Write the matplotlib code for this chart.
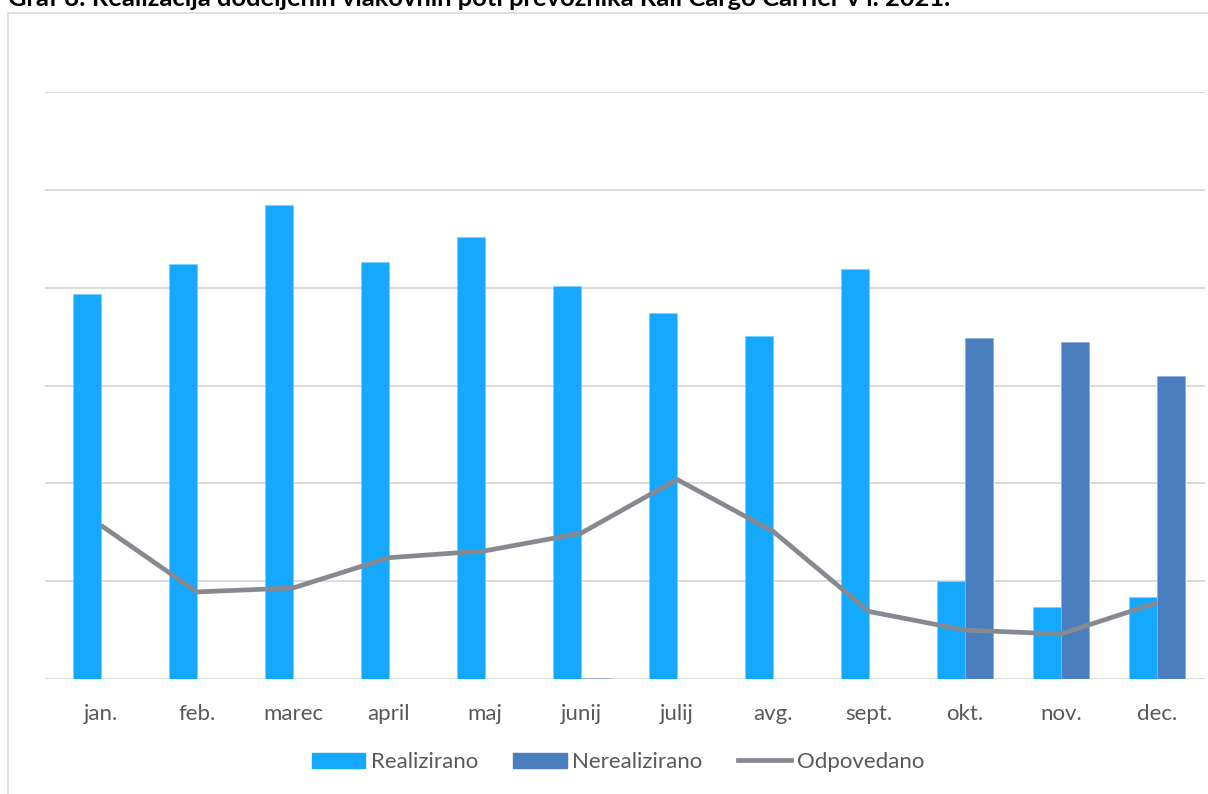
import matplotlib
matplotlib.use("Agg")
import matplotlib.pyplot as plt
from matplotlib.patches import Rectangle
from matplotlib.lines import Line2D
import numpy as np

months = ["jan.", "feb.", "marec", "april", "maj", "junij", "julij", "avg.", "sept.", "okt.", "nov.", "dec."]
realizirano = [394, 424, 484, 426, 452, 402, 374, 351, 419, 100, 74, 84]
nerealizirano = [0, 0, 0, 0, 0.4, 1.5, 0, 0, 0, 349, 344, 310]
odpovedano = [157, 89, 93, 124, 131, 149, 204, 151, 69, 50, 46, 78]
title = "Graf 8: Realizacija dodeljenih vlakovnih poti prevoznika Rail Cargo Carrier v l. 2021."

C_REAL = "#14A9FF"
C_NER = "#4A7EBE"
C_ODP = "#868A90"
C_TXT = "#595959"
C_GRID = "#D9D9D9"

FONT = "Lato"
W, H = 1208, 794
fig = plt.figure(figsize=(W / 100, H / 100), dpi=100)

# outer chart border
fig.patches.append(Rectangle((8 / W, 0 - 10 / H), 1.2, (H - 13 + 10) / H, transform=fig.transFigure,
                             fill=False, edgecolor=C_GRID, linewidth=1.2))

ax = fig.add_axes([45 / W, 1 - 679 / H, (1205 - 45) / W, (679 - 92) / H])
x = np.arange(len(months))
bw = 0.29
ax.bar(x - bw / 2, realizirano, width=bw, color=C_REAL, edgecolor="#7FD0FF", linewidth=0.6, zorder=2,
       label="Realizirano")
ax.bar(x + bw / 2, nerealizirano, width=bw, color=C_NER, edgecolor="#8FB0DA", linewidth=0.6, zorder=2,
       label="Nerealizirano")
ax.plot(x, odpovedano, color=C_ODP, linewidth=3.4, solid_joinstyle="round", solid_capstyle="butt",
        zorder=3, label="Odpovedano")

ax.set_xlim(-0.583, 11.5)
ax.set_ylim(0, 600)
ax.set_yticks(np.arange(0, 601, 100))
ax.set_yticklabels([])
ax.tick_params(axis="y", length=0)
ax.grid(axis="y", color=C_GRID, linewidth=1.3, zorder=0)
ax.set_axisbelow(True)
for s in ax.spines.values():
    s.set_visible(False)
ax.set_xticks(x)
ax.set_xticklabels(months, fontsize=16, color=C_TXT, family=FONT)
ax.tick_params(axis="x", length=0, pad=18)

handles = [Rectangle((0, 0), 1, 1, color=C_REAL), Rectangle((0, 0), 1, 1, color=C_NER),
           Line2D([0], [0], color=C_ODP, linewidth=3.4)]
fig.legend(handles, ["Realizirano", "Nerealizirano", "Odpovedano"], loc="center",
           bbox_to_anchor=(618 / W, 1 - 762 / H), ncol=3, frameon=False,
           prop={"family": FONT, "size": 16}, labelcolor=C_TXT,
           handlelength=2.4, handleheight=0.65, handletextpad=0.25, columnspacing=1.6)

t = fig.text(8 / W, 1 - 6 / H, title, fontsize=14, fontweight="bold", family=FONT,
             color="black", ha="left", va="baseline")
fig.canvas.draw()
bb = t.get_window_extent()
t.set_fontsize(14 * 947 / bb.width)

fig.savefig("out.png", dpi=100)
